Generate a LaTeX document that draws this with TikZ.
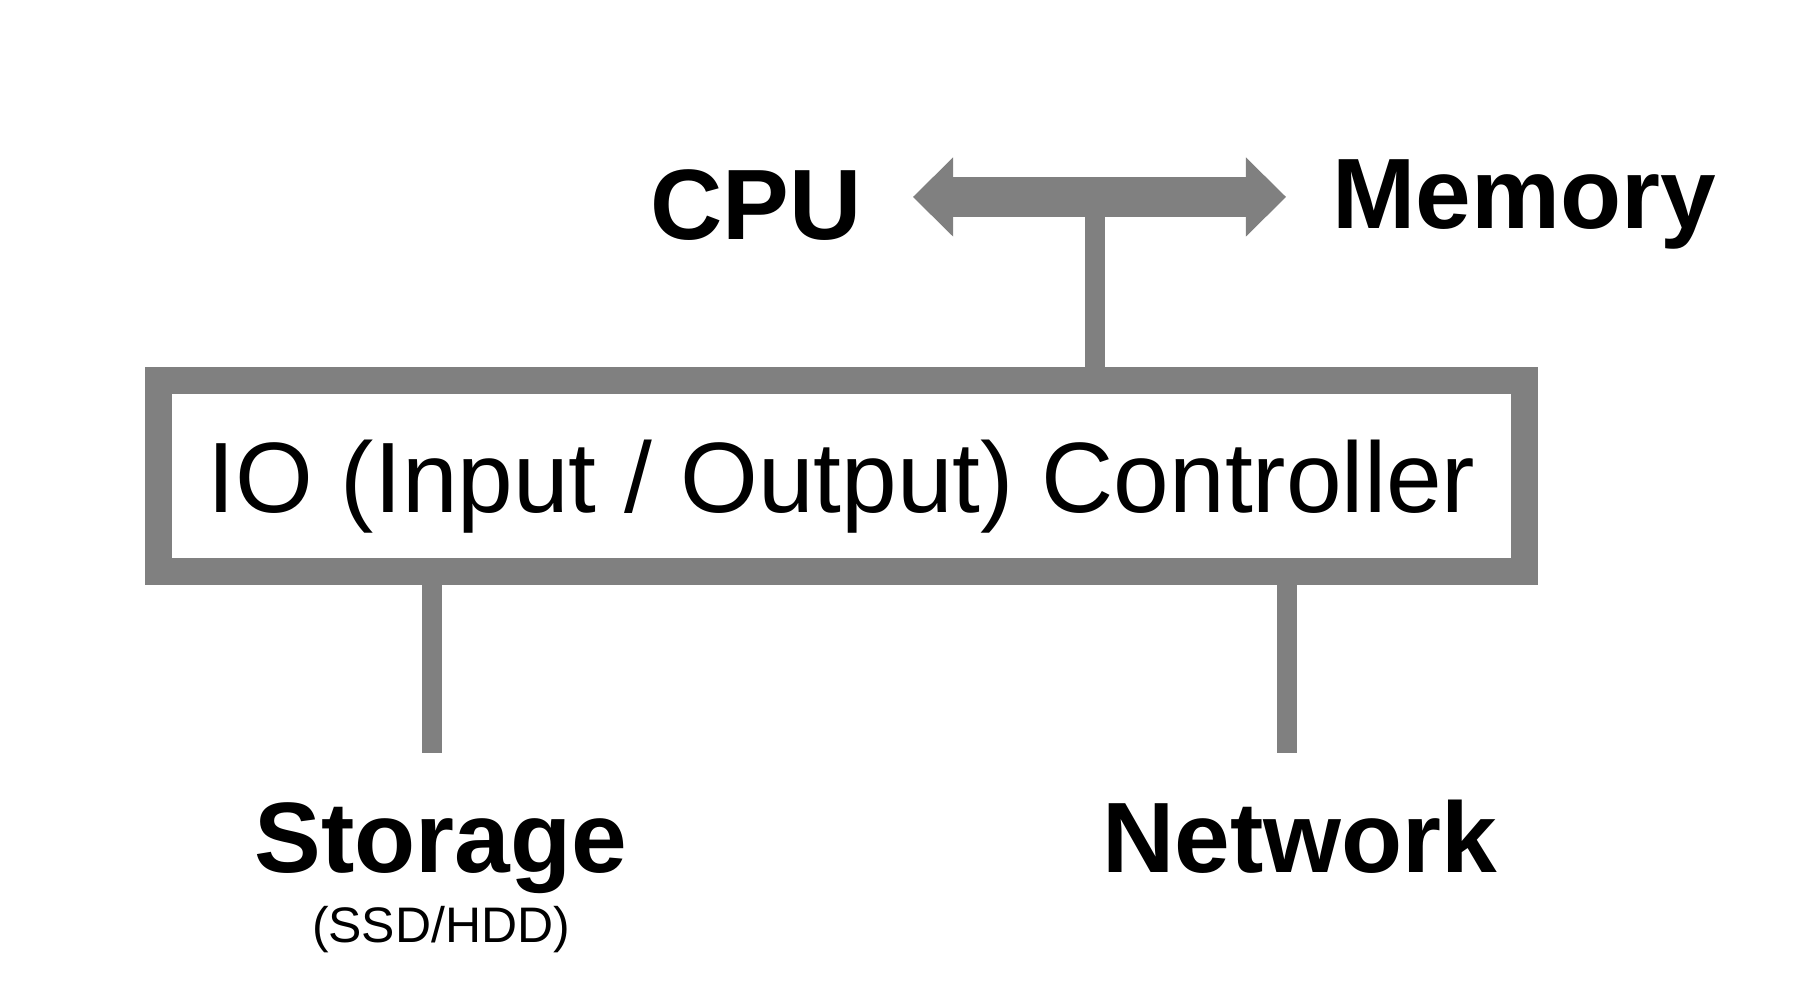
\documentclass[tikz,border=0pt]{standalone}
\usepackage{fontspec}
\setmainfont{Liberation Sans}
\usetikzlibrary{arrows.meta, positioning, calc}

\begin{document}
\begin{tikzpicture}[
    x=0.01cm, y=-0.01cm,
    ctrl/.style={rectangle, draw=gray, line width=0.27cm, minimum width=13.66cm, minimum height=1.91cm, text height=0.72cm, text depth=0pt, inner sep=0pt, font=\fontsize{28.45}{34}\selectfont},
    unit/.style={anchor=base, inner sep=0pt, font=\fontsize{28.45}{34}\selectfont\bfseries},
    sub/.style={anchor=base, inner sep=0pt, font=\fontsize{14.2}{17}\selectfont},
    link/.style={draw=gray, line width=0.195cm},
    bus/.style={draw=gray, line width=0.4cm, {Triangle[length=0.4cm, width=0.79cm, line width=0pt]}-{Triangle[length=0.4cm, width=0.79cm, line width=0pt]}}
]
\useasboundingbox (0,0) rectangle (1817,998);

\node[ctrl] (io) at (841.5,476) {IO (Input / Output) Controller};

\node[unit] (cpu) at (756,240) {CPU};
\node[unit] (memory) at (1524,229) {Memory};
\node[unit] (storage) at (441,873) {Storage};
\node[sub] (storagesub) at (441,943) {(SSD/HDD)};
\node[unit] (network) at (1300,873) {Network};

% system bus between CPU and memory
\coordinate (busL) at (913,197);
\coordinate (busR) at (1286,197);
\coordinate (tap) at (1095,197);
\draw[bus] (busL) -- (busR);
\draw[link] (tap) -- (tap |- io.north);

% devices
\coordinate (stoend) at (432,753);
\coordinate (netend) at (1287,753);
\draw[link] (stoend |- io.south) -- (stoend);
\draw[link] (netend |- io.south) -- (netend);

\end{tikzpicture}
\end{document}
